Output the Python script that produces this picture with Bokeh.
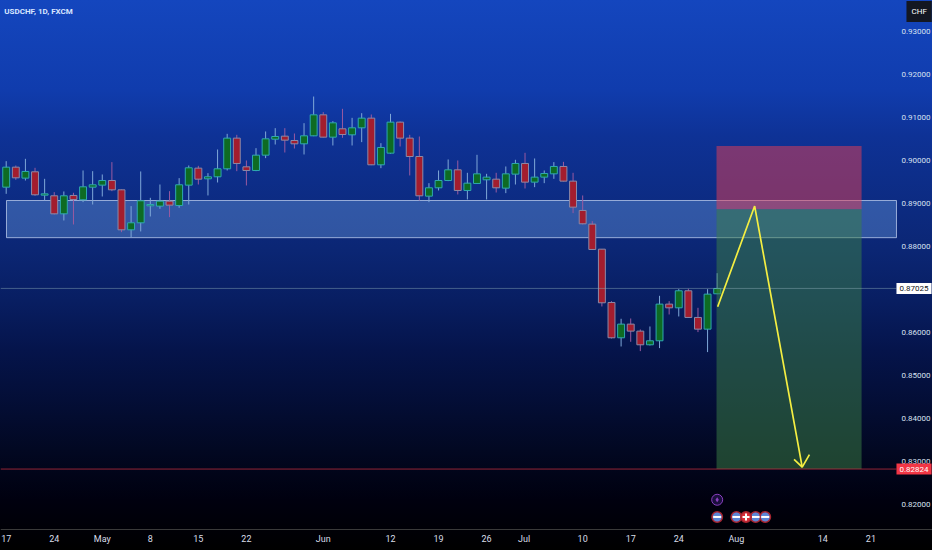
from bokeh.plotting import figure, ColumnDataSource
from bokeh.models import Range1d, FixedTicker, Label, PrintfTickFormatter, LinearAxis
from bokeh.embed import file_html
from bokeh.resources import INLINE

FONT = "Roboto"

# Daily candles, Apr 17 onward (trading-day index = position in the lists)
opens = [.8938,.89845,.8959,.89737,.89194,.89179,.8876,.89187,.89086,.8938,.89427,.89535,.89318,.88388,.88551,
         .88946,.88939,.89055,.88954,.89427,.89822,.89574,.89621,.89807,.9052,.89853,.89768,.90124,.90496,.90566,
         .90465,.90388,.90574,.91062,.90543,.90737,.90597,.9076,.90985,.899,.90171,.90892,.9052,.90093,.89171,
         .89365,.89535,.89783,.89303,.89466,.89551,.89566,.89357,.89683,.89931,.89497,.89613,.8969,.89861,.8952,
         .88838,.8852,.87938,.86698,.85877,.86195,.86032,.85714,.85807,.8666,.86574,.8697,.8635,.86078,.869]
closes = [.89845,.89597,.89745,.89202,.89225,.8876,.89179,.89094,.89388,.89435,.89535,.89318,.88388,.88551,.89063,
          .88977,.89055,.88962,.89435,.8983,.89566,.89621,.89807,.9052,.89931,.89768,.90124,.90504,.90558,.90473,
          .90388,.90574,.91062,.90543,.90876,.90605,.9076,.90985,.899,.90303,.90892,.9052,.90093,.89179,.89365,
          .89535,.89783,.89303,.89473,.8969,.89613,.89365,.8969,.89931,.89497,.89613,.89698,.89861,.8952,.88915,
          .88528,.87931,.86691,.85877,.86195,.86032,.85714,.85807,.8666,.86574,.8697,.8635,.86078,.86892,.87024]
highs = [.89985,.89884,.90039,.8983,.89574,.89264,.8928,.89249,.89768,.89752,.89675,.89962,.89326,.88939,.89745,
         .89132,.89442,.89287,.8959,.89884,.89876,.89706,.90256,.9062,.90597,.9,.90287,.90675,.90752,.90752,
         .90628,.90868,.91488,.91124,.90915,.91202,.90992,.91101,.9107,.90403,.91085,.90907,.90597,.90558,.89473,
         .89768,.90024,.9,.89714,.90132,.8969,.89714,.89861,.90016,.90179,.90047,.89768,.89962,.89969,.89714,
         .89187,.88589,.8794,.86729,.86319,.86326,.86071,.8614,.86853,.86729,.87008,.87016,.86574,.87008,.8738]
lows = [.89225,.89551,.89535,.89179,.8907,.88745,.88605,.88512,.89032,.88977,.89163,.89287,.88334,.88218,.8835,
        .88698,.88877,.88683,.889,.88977,.89442,.89187,.89489,.89768,.89752,.89419,.89752,.90055,.90372,.90186,
        .90279,.9014,.90566,.90535,.90349,.90528,.90349,.90427,.89892,.89822,.90155,.90326,.89652,.8907,.89032,
        .89303,.8952,.8921,.89094,.89458,.89094,.89256,.89241,.89442,.89349,.8938,.89473,.89574,.89512,.88776,
        .88512,.87923,.86605,.85861,.85675,.85784,.85567,.85699,.85637,.86419,.86373,.86342,.86009,.85544,.86892]

y_ticks = [.93,.92,.91,.90,.89,.88,.86,.85,.84,.83,.82]
x_tick_pos = [0,5,10,15,20,25,33,40,45,50,53.9,60,65,70,76,85,90]
x_tick_txt = ["17","24","May","8","15","22","Jun","12","19","26","Jul","10","17","24","Aug","14","21"]

zone_top, zone_bottom = 0.8907, 0.88205
entry, stop, target = 0.88865, 0.9034, 0.82824
last_price = 0.87025
path_idx = [74.05, 77.9, 82.85]
path_px = [0.8660, 0.8894, 0.8287]
head_idx = [82.0, 82.85, 83.6]
head_px = [0.8305, 0.8287, 0.8316]
us_events = [74, 76, 78, 79]
ch_events = [77]
power_event = [74]

X0, X1 = -0.593, 96.41        # window left/right edges in bar units
Y0, Y1 = 0.8093, 0.93721      # window bottom/top edges in price units
AXIS_X = 92.66                # where the price scale starts
AXIS_Y = 0.81419              # where the time scale sits

colors_up = dict(fill="#0e6b23", line="#2fa8b0", wick="#7fa8d8")
colors_dn = dict(fill="#a31d2e", line="#8c8aa8", wick="#9a5aa0")
idx = list(range(len(opens)))
up = [c >= o for o, c in zip(opens, closes)]
src = ColumnDataSource(dict(
    x=idx, top=[max(o, c) for o, c in zip(opens, closes)], bottom=[min(o, c) for o, c in zip(opens, closes)],
    high=highs, low=lows,
    fill=[(colors_up if u else colors_dn)["fill"] for u in up],
    line=[(colors_up if u else colors_dn)["line"] for u in up],
    wick=[(colors_up if u else colors_dn)["wick"] for u in up],
))

p = figure(width=932, height=550, output_backend="svg", toolbar_location=None,
           x_range=Range1d(X0, X1), y_range=Range1d(Y0, Y1),
           x_axis_location=None, y_axis_location=None,
           min_border_left=0, min_border_top=0, min_border_right=0, min_border_bottom=0,
           border_fill_color=None, background_fill_color=None, outline_line_color=None)
p.styles = {"background": "linear-gradient(180deg,#1446be 0px,#103cad 90px,#0e3296 135px,"
                          "#0b2674 250px,#081e62 300px,#05144b 350px,#020822 450px,#00000f 500px,#000 550px)"}
p.grid.visible = False

ax = LinearAxis(fixed_location=AXIS_Y)
ax.ticker = FixedTicker(ticks=x_tick_pos)
ax.major_label_overrides = dict(zip(x_tick_pos, x_tick_txt))
ax.axis_line_color = "#3a3a3a"
ax.major_tick_line_color = None
ax.minor_tick_line_color = None
ax.major_tick_out = 0
ax.major_tick_in = 0
ax.major_label_standoff = 5
ax.major_label_text_color = "#d8dde8"
ax.major_label_text_font = FONT
ax.major_label_text_font_size = "9px"
p.add_layout(ax, "below")

ay = LinearAxis(fixed_location=AXIS_X)
ay.ticker = FixedTicker(ticks=y_ticks)
ay.formatter = PrintfTickFormatter(format="%.5f")
ay.axis_line_color = None
ay.major_tick_line_color = None
ay.minor_tick_line_color = None
ay.major_tick_out = 0
ay.major_tick_in = 0
ay.major_label_standoff = 5
ay.major_label_text_color = "#d8e0f0"
ay.major_label_text_font = FONT
ay.major_label_text_font_size = "8px"
p.add_layout(ay, "right")

p.quad(left=0.03, right=AXIS_X, top=zone_top, bottom=zone_bottom, fill_color="#88bfff", fill_alpha=0.3,
       line_color="#c0d0f0", line_alpha=0.75, line_width=1)
p.segment(x0="x", x1="x", y0="low", y1="high", source=src, line_color="wick", line_width=1)
p.vbar(x="x", width=0.72, top="top", bottom="bottom", source=src, fill_color="fill", line_color="line", line_width=1)

p.quad(left=73.93, right=89.03, top=stop, bottom=entry, fill_color="#e83e54", fill_alpha=0.5, line_color=None)
p.quad(left=73.93, right=89.03, top=entry, bottom=target, fill_color="#3c8246", fill_alpha=0.5, line_color=None)

p.line([X0, AXIS_X], [last_price, last_price], line_color="#8fb0b8", line_alpha=0.45, line_width=1)
p.line([X0, AXIS_X], [target, target], line_color="#e03545", line_alpha=0.65, line_width=1)

p.line(path_idx, path_px, line_color="#f4ee42", line_width=1.7)
p.line(head_idx, head_px, line_color="#f4ee42", line_width=1.7)

y_us = 0.8135 + 0.0036
p.scatter(us_events, [y_us] * len(us_events), size=10.5, fill_color="#5b86d6", line_color="#a8242f", line_width=1.5)
p.scatter(us_events, [y_us] * len(us_events), size=8, marker="dash", line_color="#ffffff", line_width=2)
p.scatter(ch_events, [y_us] * len(ch_events), size=10.5, fill_color="#d82c38", line_color="#a8242f", line_width=1.5)
p.scatter(ch_events, [y_us] * len(ch_events), size=7, marker="cross", line_color="#ffffff", line_width=2)
y_pw = 0.8135 + 0.0076
p.scatter(power_event, [y_pw] * len(power_event), size=11, fill_color="#1a0f3c", line_color="#8a3fc0", line_width=1)
p.scatter(power_event, [y_pw] * len(power_event), size=5, marker="diamond", fill_color="#8a3fc0", line_color=None)

def tag(x, y, text, bg, fg, **kw):
    p.add_layout(Label(x=x, y=y, text=text, text_align="left", text_baseline="middle",
                       text_color=fg, text_font=FONT, text_font_size="8px",
                       background_fill_color=bg, **kw))

tag(AXIS_X, last_price, "0.87025", "#ffffff", "#131722", padding=3)
tag(AXIS_X, target, "0.82824", "#f23645", "#ffffff", padding=3)
tag(93.7, 0.93465, "CHF", "#131722", "#ffffff", padding=(5, 6))
p.add_layout(Label(x=-0.2, y=0.93465, text="USDCHF, 1D, FXCM", text_baseline="middle", text_color="#d8e6ff",
                   text_font=FONT, text_font_size="8px", text_font_style="bold"))

open("out.html", "w").write(file_html(p, INLINE))
